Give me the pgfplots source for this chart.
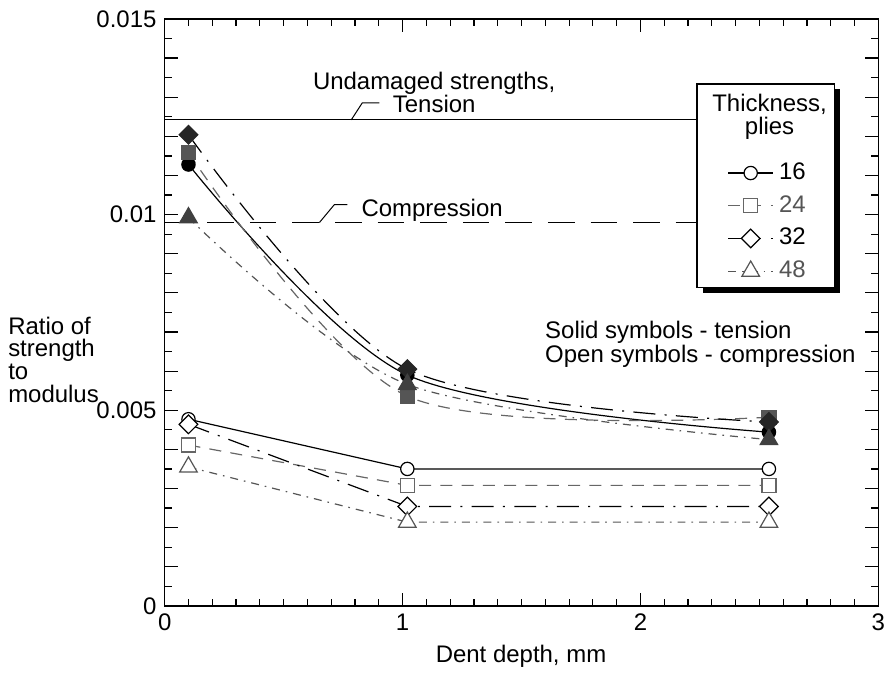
\documentclass[border=0pt]{standalone}
\usepackage{fontspec}
\setmainfont{Liberation Sans}
\usepackage{pgfplots}
\pgfplotsset{compat=1.18}
\usetikzlibrary{shadows}

\definecolor{gr}{HTML}{555555}
\definecolor{grl}{HTML}{666666}

\tikzset{
  p16/.style={black, solid, line width=0.9pt},
  p24/.style={grl, dash pattern=on 9pt off 7pt, line width=0.9pt},
  p32/.style={black, dash pattern=on 16.5pt off 7pt on 1.5pt off 7pt, line width=0.9pt},
  p48/.style={gr, dash pattern=on 6pt off 4.5pt on 1.2pt off 4.5pt, line width=0.9pt},
}

\begin{document}
\fontsize{18}{21}\selectfont
\begin{tikzpicture}
% pixel frame of the reference (893 x 675), axis origin at px (165,607)
\begin{scope}[x=0.75pt, y=-0.75pt, shift={(-123.75pt,455.25pt)}]
  \path[use as bounding box] (0,0) rectangle (893,675);
\end{scope}

\begin{axis}[
  at={(0,0)}, anchor=south west,
  scale only axis, width=536.25pt, height=441pt,
  xmin=0, xmax=3, ymin=0, ymax=0.015,
  xtick={0,1,2,3}, ytick={0,0.005,0.01,0.015},
  yticklabels={0,0.005,0.01,0.015},
  scaled y ticks=false,
  minor x tick num=9, minor y tick num=9,
  extra y ticks={0.001,0.002,0.003,0.004,0.006,0.007,0.008,0.009,0.011,0.012,0.013,0.014},
  extra y tick labels={},
  tick align=inside,
  major tick length=9.75pt, minor tick length=5.25pt,
  axis line style={line width=1.2pt},
  tick style={black, line width=0.9pt},
  font=\fontsize{18}{21}\selectfont,
  /pgf/number format/assume math mode=true,
  legend style={draw=none, fill=none, at={(0.7884,0.7575)}, anchor=north west,
    inner sep=0pt, row sep=7.3pt, column sep=3pt, nodes={inner sep=1pt},
    font=\fontsize{18}{21}\selectfont},
  legend cell align=left,
  legend image code/.code={\draw[mark repeat=2, mark phase=2, #1]
    plot coordinates {(0pt,0pt) (16.9pt,0pt) (33.75pt,0pt)};},
]
% undamaged strengths
\addplot[black, line width=0.8pt, forget plot] coordinates {(0,0.01242) (2.236,0.01242)};
\addplot[black, line width=0.8pt, dash pattern=on 20pt off 12pt, forget plot] coordinates {(0,0.0098) (2.54,0.0098)};

% tension (solid symbols)
\addplot[p16, smooth, mark=*, mark size=5pt, mark options={solid, fill=black}, forget plot]
  coordinates {(0.1,0.01128) (1.02,0.0059) (2.54,0.00444)};
\addplot[p24, smooth, mark=square*, mark size=5.25pt, mark options={solid, fill=gr, draw=gr}, forget plot]
  coordinates {(0.1,0.01158) (1.02,0.00536) (2.54,0.00482)};
\addplot[p32, smooth, mark=square*, mark size=4.95pt, mark options={solid, rotate=45, fill=black!85, draw=black!85}, forget plot]
  coordinates {(0.1,0.01204) (1.02,0.00605) (2.54,0.0047)};
\addplot[p48, smooth, mark=triangle*, mark size=7.6pt, mark options={solid, fill=black!75, draw=black!75}, forget plot]
  coordinates {(0.1,0.00992) (1.02,0.00566) (2.54,0.00425)};

% compression (open symbols)
\addplot[p16, mark=*, mark size=5pt, mark options={solid, fill=white, draw=black}]
  coordinates {(0.1,0.00477) (1.02,0.0035) (2.54,0.0035)};
\addlegendentry{16}
\addplot[p24, mark=square*, mark size=5.25pt, mark options={solid, fill=white, draw=grl}]
  coordinates {(0.1,0.00411) (1.02,0.00308) (2.54,0.00308)};
\addlegendentry[text=gr]{24}
\addplot[p32, mark=square*, mark size=4.95pt, mark options={solid, rotate=45, fill=white, draw=black}]
  coordinates {(0.1,0.00464) (1.02,0.00254) (2.54,0.00254)};
\addlegendentry{32}
\addplot[p48, mark=triangle*, mark size=7.6pt, mark options={solid, fill=white, draw=gr}]
  coordinates {(0.1,0.00355) (1.02,0.00214) (2.54,0.00214)};
\addlegendentry[text=gr]{48}

% legend box with shadow and title
\draw[line width=1.2pt, fill=white,
  drop shadow={shadow xshift=4.5pt, shadow yshift=-4pt, opacity=1, fill=black}]
  (axis cs:2.2364,0.013342) rectangle (axis cs:2.8154,0.008138);
\node[anchor=base, align=center, font=\fontsize{18}{17.25}\selectfont]
  at (axis cs:2.5427,0.012041) {Thickness,\\plies};
\end{axis}

\begin{scope}[x=0.75pt, y=-0.75pt, shift={(-123.75pt,455.25pt)}]
  % annotations
  \node[anchor=base, align=center, inner sep=0pt, font=\fontsize{18}{17}\selectfont]
    at (435,112.7) {Undamaged strengths,\\Tension};
  \draw[line width=0.75pt] (352,120) -- (363,103) -- (380,103);
  \node[anchor=base west, inner sep=0pt] at (362,217) {Compression};
  \draw[line width=0.75pt] (320,223) -- (335,205) -- (348,205);
  \node[anchor=base west, align=left, inner sep=0pt, font=\fontsize{18}{15.75}\selectfont]
    at (546,363) {Solid symbols - tension\\Open symbols - compression};
  % axis titles
  \node[anchor=base] at (522,664) {Dent depth, mm};
  \node[anchor=base west, align=left, inner sep=0pt, font=\fontsize{18}{17}\selectfont]
    at (8,403) {Ratio of\\strength\\to\\modulus};
\end{scope}
\end{tikzpicture}
\end{document}
